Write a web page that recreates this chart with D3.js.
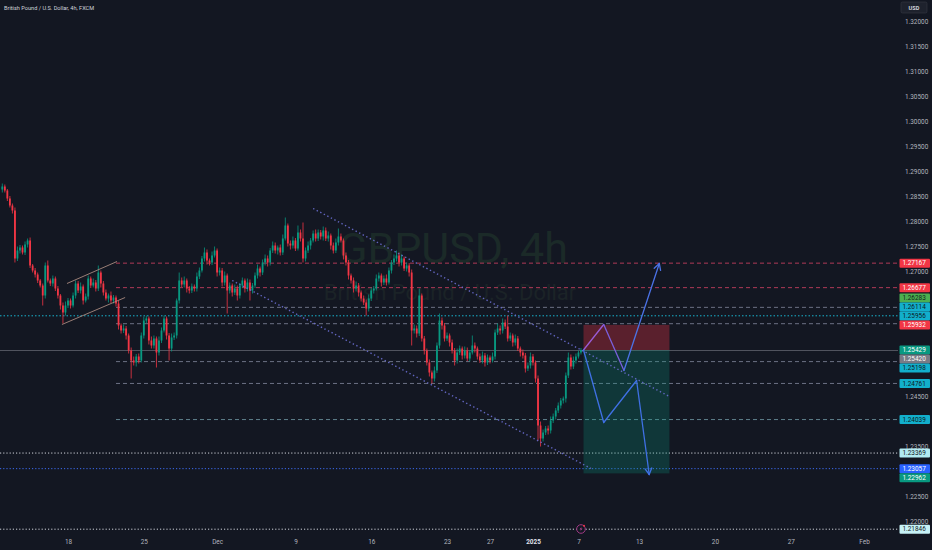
<!DOCTYPE html>
<html><head><meta charset="utf-8">
<script src="https://cdn.jsdelivr.net/npm/d3@7/dist/d3.min.js"></script>
<style>html,body{margin:0;padding:0;background:#131722;overflow:hidden}</style>
</head><body>
<svg id="c" width="932" height="550"></svg>
<script>
// ---------------- DATA ----------------
const title = "British Pound / U.S. Dollar, 4h, FXCM";
const watermark1 = "GBPUSD, 4h";
const watermark2 = "British Pound / U.S. Dollar";
const firstOpen = 1.2864;
// 4h closes, one per bar
const closes = [
1.2870,1.2862,1.2846,1.2832,1.2822,1.2726,1.2742,1.2748,1.2738,1.2754,
1.2762,1.2712,1.2702,1.2694,1.2682,1.2672,1.2652,1.2712,1.2682,1.2676,
1.2686,1.2666,1.2652,1.2632,1.2618,1.2632,1.2642,1.2632,1.2652,1.2676,
1.2662,1.2670,1.2642,1.2650,1.2686,1.2672,1.2678,1.2666,1.2698,1.2676,
1.2658,1.2646,1.2652,1.2642,1.2648,1.2636,1.2592,1.2582,1.2586,1.2572,
1.2542,1.2522,1.2518,1.2530,1.2522,1.2572,1.2602,1.2606,1.2562,1.2552,
1.2566,1.2538,1.2562,1.2582,1.2606,1.2572,1.2546,1.2568,1.2572,1.2642,
1.2682,1.2674,1.2682,1.2666,1.2662,1.2670,1.2666,1.2690,1.2702,1.2726,
1.2738,1.2722,1.2718,1.2732,1.2742,1.2698,1.2702,1.2678,1.2692,1.2662,
1.2672,1.2658,1.2666,1.2652,1.2672,1.2682,1.2666,1.2678,1.2662,1.2672,
1.2692,1.2706,1.2698,1.2718,1.2726,1.2718,1.2742,1.2752,1.2742,1.2748,
1.2738,1.2766,1.2792,1.2756,1.2752,1.2762,1.2746,1.2778,1.2766,1.2726,
1.2742,1.2752,1.2762,1.2776,1.2766,1.2778,1.2770,1.2782,1.2766,1.2772,
1.2752,1.2742,1.2758,1.2770,1.2762,1.2732,1.2718,1.2692,1.2682,1.2666,
1.2672,1.2658,1.2646,1.2638,1.2626,1.2646,1.2662,1.2666,1.2686,1.2692,
1.2678,1.2686,1.2678,1.2702,1.2718,1.2726,1.2732,1.2718,1.2726,1.2706,
1.2712,1.2698,1.2582,1.2586,1.2576,1.2652,1.2566,1.2542,1.2518,1.2498,
1.2486,1.2502,1.2552,1.2602,1.2592,1.2566,1.2572,1.2558,1.2542,1.2522,
1.2538,1.2546,1.2532,1.2542,1.2526,1.2538,1.2552,1.2546,1.2530,1.2522,
1.2532,1.2518,1.2528,1.2522,1.2530,1.2578,1.2586,1.2582,1.2598,1.2590,
1.2566,1.2572,1.2558,1.2566,1.2546,1.2538,1.2532,1.2506,1.2512,1.2530,
1.2518,1.2486,1.2392,1.2366,1.2378,1.2386,1.2382,1.2402,1.2410,1.2422,
1.2432,1.2442,1.2446,1.2492,1.2528,1.2510,1.2522,1.2530,1.2538,1.2543];
// wick lengths in pips above the body top / below the body bottom
const upperWick = [
6,4,3,5,4,6,8,5,4,6, 4,6,3,5,4,3,4,6,10,4, 6,4,5,3,6,8,5,4,6,6, 5,8,4,6,6,4,8,5,14,4,
5,6,4,8,5,4,6,4,8,5, 4,6,8,5,6,6,8,6,4,8, 6,4,8,6,6,4,5,8,6,4, 16,6,8,4,5,6,4,8,6,5,
10,6,4,8,8,4,6,5,8,4, 6,4,8,6,5,6,4,8,6,5, 6,8,4,6,8,6,5,8,6,4, 6,8,16,4,6,8,5,14,6,32,
6,8,5,6,8,6,5,8,6,8, 4,6,8,16,6,4,6,5,4,6, 8,5,4,6,6,8,6,5,8,6, 4,6,8,6,5,8,10,6,8,4,
6,5,6,8,6,14,4,5,4,6, 4,8,6,14,6,5,6,4,6,5, 8,6,4,8,6,5,20,6,4,6, 8,5,6,4,8,6,10,6,8,6,
22,6,4,8,5,4,6,5,6,8, 5,4,6,8,6,5,6,8,6,5, 6,5,4,6,10,6,8,6,4,4];
const lowerWick = [
6,4,5,4,6,8,5,6,4,5, 6,5,4,6,5,4,20,6,4,5, 6,5,6,8,22,6,5,6,4,6, 5,6,8,4,6,5,4,6,5,8,
6,4,8,5,6,6,8,6,5,8, 6,36,6,8,6,4,6,5,8,6, 6,30,6,5,4,8,24,6,5,6, 6,5,6,8,6,5,6,6,5,4,
6,8,6,5,4,8,6,8,6,46, 6,8,5,10,6,5,8,6,20,6, 5,6,8,5,6,8,6,5,6,8, 6,5,4,6,8,6,5,4,6,8,
6,5,8,4,6,5,6,8,5,6, 8,6,5,6,4,8,6,8,6,8, 6,8,6,5,14,6,5,6,4,6, 8,5,6,4,6,5,6,8,6,5,
6,8,30,6,8,5,6,8,6,8, 10,6,5,6,8,6,5,8,6,10, 6,5,8,6,5,6,4,8,6,5, 6,8,5,6,4,6,5,8,6,5,
6,5,8,6,5,8,6,8,5,6, 6,8,30,16,6,5,8,6,5,6, 5,6,6,8,5,6,5,6,4,4];

const priceTicks = [1.32,1.315,1.31,1.305,1.30,1.295,1.29,1.285,1.28,1.275,1.27,1.245,1.235,1.225,1.22];
const dateIdx    = [26,56,85,116,146,176,193,210,228,252,282,312,341];
const dateLabels = ["18","25","Dec","9","16","23","27","2025","7","13","20","27","Feb"];

// horizontal level drawings
const levelValues = [1.27167,1.26677,1.26283,1.26114,1.25956,1.25420,1.25198,1.24761,1.24039,1.23369,1.23057,1.21846];
const levelStartIdx = [45,45,45,0,45,0,45,45,45,0,0,0];
// right-axis labels
const labelValues = [1.27167,1.26677,1.26283,1.26114,1.25956,1.25932,1.25429,1.25420,1.25198,1.24761,1.24039,1.23369,1.23057,1.22962,1.21846];
const labelPriority = [0,0,0,0,0,1,1,0,0,0,0,0,1,0,0];

// position tool (short)
const posEntry = 1.25429, posStop = 1.25932, posTarget = 1.22962;
const posStartIdx = 230, posEndIdx = 264;
// scenario zigzags [barIndex, price]
const upPath   = [[230,1.2543],[238,1.2594],[246,1.2502],[260,1.2716]];
const downPath = [[230,1.2543],[238,1.2398],[251,1.2482],[256,1.2294]];
// trend channel [barIndex, price]
const channelUpper = [[123,1.2826],[264,1.2450]];
const channelLower = [[91,1.2682],[233,1.2306]];
// small flag on the left
const flagUpper = [[25.6,1.2676],[45.4,1.2720]];
const flagLower = [[23.6,1.2594],[48.6,1.2648]];
const eventIdx = 229;

// ---------------- STYLES ----------------
const BG = "#131722", UP = "#089981", DOWN = "#f23645";
const levelStyles = [
 {c:"#b03a58",d:"4,3"},{c:"#b03a58",d:"4,3"},{c:"#6c7184",d:"4,3"},{c:"#19b4cf",d:"1.5,2"},
 {c:"#6c7184",d:"4,3"},{c:"#50535e",d:null},{c:"#6c7184",d:"4,3"},{c:"#6c7184",d:"4,3"},
 {c:"#5f7f8c",d:"4,3"},{c:"#d1d4dc",d:"1.2,2"},{c:"#3d6bf0",d:"1.2,2"},{c:"#d1d4dc",d:"1.2,2"}];
const labelStyles = [
 {bg:"#f23645",fg:"#fff"},{bg:"#f23645",fg:"#fff"},{bg:"#4caf50",fg:"#10221a"},{bg:"#12afcc",fg:"#0d1a22"},
 {bg:"#12afcc",fg:"#0d1a22"},{bg:"#f23645",fg:"#fff"},{bg:"#089981",fg:"#fff"},{bg:"#787b86",fg:"#fff"},
 {bg:"#12afcc",fg:"#0d1a22"},{bg:"#12afcc",fg:"#0d1a22"},{bg:"#12afcc",fg:"#0d1a22"},{bg:"#b2ebf2",fg:"#131722"},
 {bg:"#2962ff",fg:"#fff"},{bg:"#089981",fg:"#fff"},{bg:"#c6f1f6",fg:"#131722"}];

// ---------------- CHART ----------------
const W = 932, H = 550, plotRight = 898;
const svg = d3.select("#c");
const FONT = "Roboto, 'Noto Sans', sans-serif";
svg.append("rect").attr("width",W).attr("height",H).attr("fill",BG);

const x = d3.scaleLinear().domain([0,341]).range([2.3, 2.3+341*2.527]);
const y = d3.scaleLinear().domain([1.22,1.32]).range([521.5,21.5]);

const plot = svg.append("g");
plot.append("clipPath").attr("id","clip").append("rect").attr("x",0).attr("y",0).attr("width",plotRight).attr("height",533);
const g = plot.append("g").attr("clip-path","url(#clip)");

// watermark
g.append("text").attr("x",453).attr("y",263).attr("text-anchor","middle")
 .attr("font-family",FONT).attr("font-size",43).attr("fill","#1b2a28").text(watermark1);
g.append("text").attr("x",450).attr("y",300).attr("text-anchor","middle")
 .attr("font-family",FONT).attr("font-size",22).attr("fill","#1b2327").text(watermark2);

// levels
levelValues.forEach((v,i)=>{
  const s = levelStyles[i];
  g.append("line").attr("x1",levelStartIdx[i]===0?0:x(levelStartIdx[i])).attr("x2",plotRight)
   .attr("y1",y(v)).attr("y2",y(v)).attr("stroke",s.c).attr("stroke-width",1)
   .attr("stroke-dasharray",s.d);
});

// position tool
g.append("rect").attr("x",x(posStartIdx)).attr("width",x(posEndIdx)-x(posStartIdx))
 .attr("y",y(posStop)).attr("height",y(posEntry)-y(posStop)).attr("fill","rgba(242,54,69,0.32)");
g.append("rect").attr("x",x(posStartIdx)).attr("width",x(posEndIdx)-x(posStartIdx))
 .attr("y",y(posEntry)).attr("height",y(posTarget)-y(posEntry)).attr("fill","rgba(8,153,129,0.25)");

// candles
const opens = closes.map((c,i)=> i===0 ? firstOpen : closes[i-1]);
const bars = closes.map((c,i)=>({i,o:opens[i],c,
  h:Math.max(opens[i],c)+upperWick[i]/1e4, l:Math.min(opens[i],c)-lowerWick[i]/1e4}));
const cg = g.append("g");
cg.selectAll("line.w").data(bars).join("line").attr("class","w")
  .attr("x1",d=>x(d.i)).attr("x2",d=>x(d.i)).attr("y1",d=>y(d.h)).attr("y2",d=>y(d.l))
  .attr("stroke",d=>d.c>=d.o?UP:DOWN).attr("stroke-width",0.8);
cg.selectAll("rect.b").data(bars).join("rect").attr("class","b")
  .attr("x",d=>x(d.i)-0.9).attr("width",1.8)
  .attr("y",d=>y(Math.max(d.o,d.c))).attr("height",d=>Math.max(0.8,Math.abs(y(d.o)-y(d.c))))
  .attr("fill",d=>d.c>=d.o?UP:DOWN);

// channel + flag
const ln = d3.line().x(d=>x(d[0])).y(d=>y(d[1]));
[channelUpper,channelLower].forEach(p=>g.append("path").attr("d",ln(p)).attr("fill","none")
  .attr("stroke","#6a6ed0").attr("stroke-width",1.4).attr("stroke-dasharray","1.4,2.6").attr("opacity",0.9));
[flagUpper,flagLower].forEach(p=>g.append("path").attr("d",ln(p)).attr("fill","none")
  .attr("stroke","#a8897f").attr("stroke-width",0.9));

// zigzags
function seg(a,b,col){
  g.append("line").attr("x1",x(a[0])).attr("y1",y(a[1])).attr("x2",x(b[0])).attr("y2",y(b[1]))
   .attr("stroke",col).attr("stroke-width",1.3).attr("stroke-linecap","round");
}
function arrowHead(a,b,col){
  const x1=x(a[0]),y1=y(a[1]),x2=x(b[0]),y2=y(b[1]);
  const ang=Math.atan2(y2-y1,x2-x1), L=7;
  [ang+Math.PI-0.5, ang+Math.PI+0.5].forEach(t=>{
    g.append("line").attr("x1",x2).attr("y1",y2).attr("x2",x2+L*Math.cos(t)).attr("y2",y2+L*Math.sin(t))
     .attr("stroke",col).attr("stroke-width",1.3).attr("stroke-linecap","round");
  });
}
const upCols = ["#9a5bd6","#7a5fdc","#4b72e6"];
for(let k=0;k<upPath.length-1;k++) seg(upPath[k],upPath[k+1],upCols[k]);
arrowHead(upPath[2],upPath[3],upCols[2]);
for(let k=0;k<downPath.length-1;k++) seg(downPath[k],downPath[k+1],"#3f70e4");
arrowHead(downPath[2],downPath[3],"#3f70e4");

// event icon
const ex = x(eventIdx), ey = 529;
svg.append("circle").attr("cx",ex).attr("cy",ey).attr("r",4.3).attr("fill",BG).attr("stroke","#a23a86").attr("stroke-width",1);
svg.append("path").attr("d",`M${ex+0.8},${ey-2.6} L${ex-1.4},${ey+0.4} L${ex+0.2},${ey+0.4} L${ex-0.8},${ey+2.6} L${ex+1.5},${ey-0.6} L${ex-0.1},${ey-0.6} Z`).attr("fill","#c04a9a");
svg.append("circle").attr("cx",ex+3).attr("cy",ey-3.3).attr("r",1).attr("fill","#f23645");

// title
svg.append("text").attr("x",4).attr("y",9.5).attr("font-family",FONT).attr("font-size",5.6)
 .attr("fill","#d1d4dc").text(title);

// price axis
const pa = svg.append("g").attr("transform",`translate(903,0)`)
  .call(d3.axisRight(y).tickValues(priceTicks).tickFormat(d3.format(".5f")).tickSize(0).tickPadding(2));
pa.select(".domain").remove();
pa.selectAll("text").attr("font-family",FONT).attr("font-size",6.4).attr("fill","#b2b5be");

// time axis
const ta = svg.append("g").attr("transform",`translate(0,537)`)
  .call(d3.axisBottom(x).tickValues(dateIdx).tickFormat((d,i)=>dateLabels[i]).tickSize(0).tickPadding(2));
ta.select(".domain").remove();
ta.selectAll("text").attr("font-family",FONT).attr("font-size",6.4)
  .attr("fill",(d,i)=>dateLabels[i]==="2025"?"#e0e3eb":"#b2b5be")
  .attr("font-weight",(d,i)=>dateLabels[i]==="2025"?"bold":"normal");

// USD box
svg.append("rect").attr("x",901).attr("y",2).attr("width",26).attr("height",11).attr("rx",1.5)
 .attr("fill","#1e222d").attr("stroke","#363a45").attr("stroke-width",0.6);
svg.append("text").attr("x",914).attr("y",9.6).attr("text-anchor","middle").attr("font-family",FONT)
 .attr("font-size",5.6).attr("font-weight","bold").attr("fill","#d1d4dc").text("USD");

// price labels with de-overlap (fixed ones first, others pushed away)
const LH = 9;
const labs = labelValues.map((v,i)=>({v,i,ty:y(v),y:y(v),pri:labelPriority[i]}));
const placed = labs.filter(d=>d.pri);
const fixedList = placed.slice();
const rest = labs.filter(d=>!d.pri).sort((a,b)=>{
  const da=d3.min(fixedList,f=>Math.abs(f.ty-a.ty)), db=d3.min(fixedList,f=>Math.abs(f.ty-b.ty));
  return da-db;});
rest.forEach(l=>{
  for(let k=0;k<20;k++){
    const hit = placed.find(p=>Math.abs(p.y-l.y)<LH-0.01);
    if(!hit) break;
    l.y = (l.ty<hit.ty) ? hit.y-LH : hit.y+LH;
  }
  placed.push(l);
});
const lg = svg.append("g");
labs.forEach(l=>{
  const s = labelStyles[l.i];
  lg.append("rect").attr("x",899.5).attr("y",l.y-LH/2).attr("width",30.5).attr("height",LH)
    .attr("rx",1).attr("fill",s.bg);
  lg.append("text").attr("x",902.5).attr("y",l.y+2.2).attr("font-family",FONT).attr("font-size",6.4)
    .attr("fill",s.fg).text(d3.format(".5f")(l.v));
});
</script>
</body></html>
